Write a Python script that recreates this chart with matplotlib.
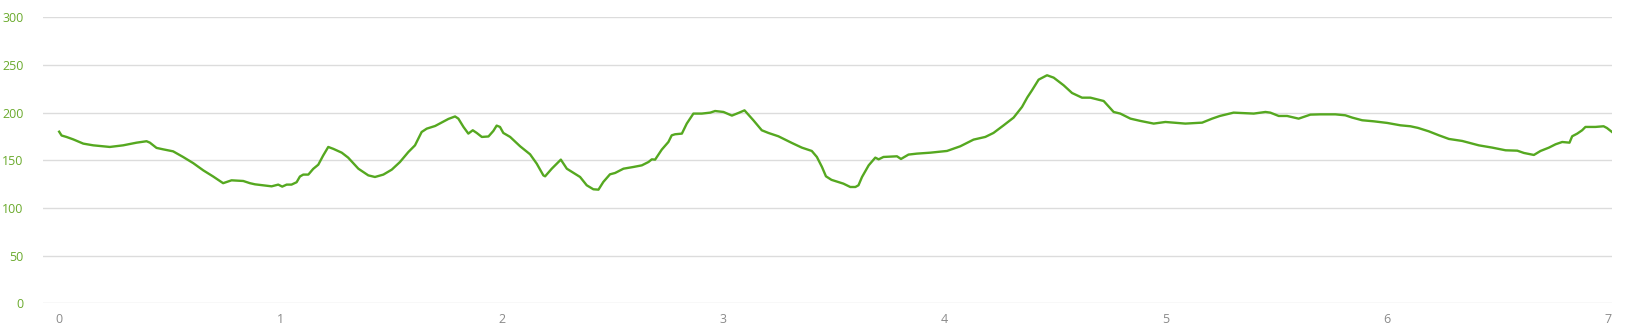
import matplotlib.pyplot as plt

# distance (km) and elevation (m)
distance = [0.0, 0.011, 0.033, 0.063, 0.109, 0.154, 0.229, 0.289, 0.35, 0.395, 0.41, 0.44, 0.47, 0.515,
            0.56, 0.606, 0.651, 0.696, 0.741, 0.779, 0.832, 0.862, 0.885, 0.96, 0.99, 1.008, 1.028, 1.05,
            1.073, 1.088, 1.103, 1.126, 1.148, 1.171, 1.193, 1.216, 1.239, 1.277, 1.306, 1.352, 1.397,
            1.427, 1.465, 1.503, 1.54, 1.578, 1.608, 1.638, 1.661, 1.699, 1.74, 1.759, 1.789, 1.804,
            1.827, 1.849, 1.869, 1.887, 1.91, 1.94, 1.962, 1.977, 1.992, 2.007, 2.038, 2.083, 2.128,
            2.158, 2.188, 2.196, 2.226, 2.256, 2.267, 2.294, 2.354, 2.384, 2.414, 2.437, 2.459, 2.489,
            2.512, 2.55, 2.595, 2.633, 2.663, 2.678, 2.693, 2.723, 2.753, 2.768, 2.783, 2.814, 2.836,
            2.866, 2.904, 2.942, 2.964, 3.002, 3.04, 3.07, 3.097, 3.137, 3.175, 3.205, 3.25, 3.311,
            3.356, 3.401, 3.424, 3.447, 3.465, 3.49, 3.544, 3.575, 3.598, 3.612, 3.628, 3.658, 3.688,
            3.703, 3.725, 3.786, 3.804, 3.838, 3.876, 3.937, 4.012, 4.072, 4.132, 4.185, 4.222, 4.268,
            4.313, 4.351, 4.375, 4.396, 4.426, 4.464, 4.494, 4.539, 4.577, 4.622, 4.66, 4.72, 4.765,
            4.795, 4.841, 4.886, 4.946, 4.999, 5.089, 5.165, 5.21, 5.245, 5.307, 5.398, 5.451, 5.473,
            5.511, 5.549, 5.601, 5.654, 5.699, 5.767, 5.812, 5.843, 5.888, 5.94, 6.001, 6.061, 6.106,
            6.14, 6.189, 6.235, 6.28, 6.34, 6.415, 6.476, 6.536, 6.589, 6.619, 6.664, 6.694, 6.732,
            6.762, 6.792, 6.825, 6.837, 6.86, 6.882, 6.897, 6.942, 6.979, 6.994, 7.017]
elevation = [180, 176, 174.5, 172, 167.5, 165.7, 164, 165.7, 168.5, 170, 168.5, 163, 161.5, 159.4,
             153.5, 147, 139.5, 133, 126, 129, 128.3, 126, 124.8, 122.7, 124.5, 122.4, 124.5, 124.5,
             127, 133, 135, 135, 141, 145.4, 155, 164, 162, 158, 152.8, 141.2, 134.2,
             132.5, 135, 140.2, 148.2, 158.7, 165.7, 179.7, 183.2, 186, 191, 193.4, 196, 193.7,
             185, 178, 181.5, 178.7, 174.5, 175, 180.8, 186.4, 185, 178.7, 174.5, 164.7, 156.3,
             146.5, 134.2, 133.2, 141.2, 148.2, 150.7, 141.2, 132.5, 123.8, 119.6, 119.2, 127.3, 135.3,
             136.7, 141.2, 143, 144.7, 148.2, 151, 150.7, 161.2, 169.2, 176.2, 177.3, 178, 188.5,
             199, 199, 200, 201.7, 200.7, 196.9, 199.7, 202.4, 192, 181.5, 178.7, 175.2, 168.2,
             163.3, 159.8, 153.5, 143, 133.2, 129.5, 125.5, 122, 122, 123.8, 132.5, 144.7, 152.8,
             151, 153.5, 154.2, 151.4, 156, 157, 158, 159.8, 164.7, 171.7, 174.5, 178.7, 186.7,
             194.8, 206, 216, 223.4, 234.6, 239.2, 236.7, 228.7, 220.6, 215.7, 215.7, 212.2, 200.7,
             199, 193.7, 191.3, 188.5, 190.2, 188.5, 189.5, 193.7, 196.5, 200, 199, 200.7, 200,
             196.5, 196.5, 193.7, 197.9, 198.2, 198.2, 197.2, 194.8, 192, 190.9, 189.2, 186.7, 185.7,
             184, 180.4, 176.2, 172.4, 170.3, 165.7, 163.3, 160.5, 160.1, 157.7, 155.6, 159.8, 163.3,
             166.8, 169.2, 168.5, 175.2, 178, 181.5, 185, 185, 185.7, 183.9, 179.7]

y_ticks = [0, 50, 100, 150, 200, 250, 300]
x_ticks = [0, 1, 2, 3, 4, 5, 6, 7]

plt.rcParams['font.family'] = ['Open Sans', 'DejaVu Sans']

fig = plt.figure(figsize=(16.29, 3.33), dpi=100)
ax = fig.add_axes([43 / 1629, 1 - 303.3 / 333, (1612 - 43) / 1629, 286 / 333])

ax.plot(distance, elevation, color='#55a820', linewidth=1.7, solid_joinstyle='round')

ax.set_xlim(-0.073, 7.017)
ax.set_ylim(0, 300)
ax.set_yticks(y_ticks)
ax.set_xticks(x_ticks)
ax.grid(axis='y', color='#dcdcdc', linewidth=1)
ax.set_axisbelow(True)
for s in ax.spines.values():
    s.set_visible(False)
ax.tick_params(axis='y', length=0, pad=14, labelsize=9, labelcolor='#6aaa2c')
ax.tick_params(axis='x', length=0, pad=7, labelsize=9, labelcolor='#8a8a8a')

fig.savefig('out.png', dpi=100)
